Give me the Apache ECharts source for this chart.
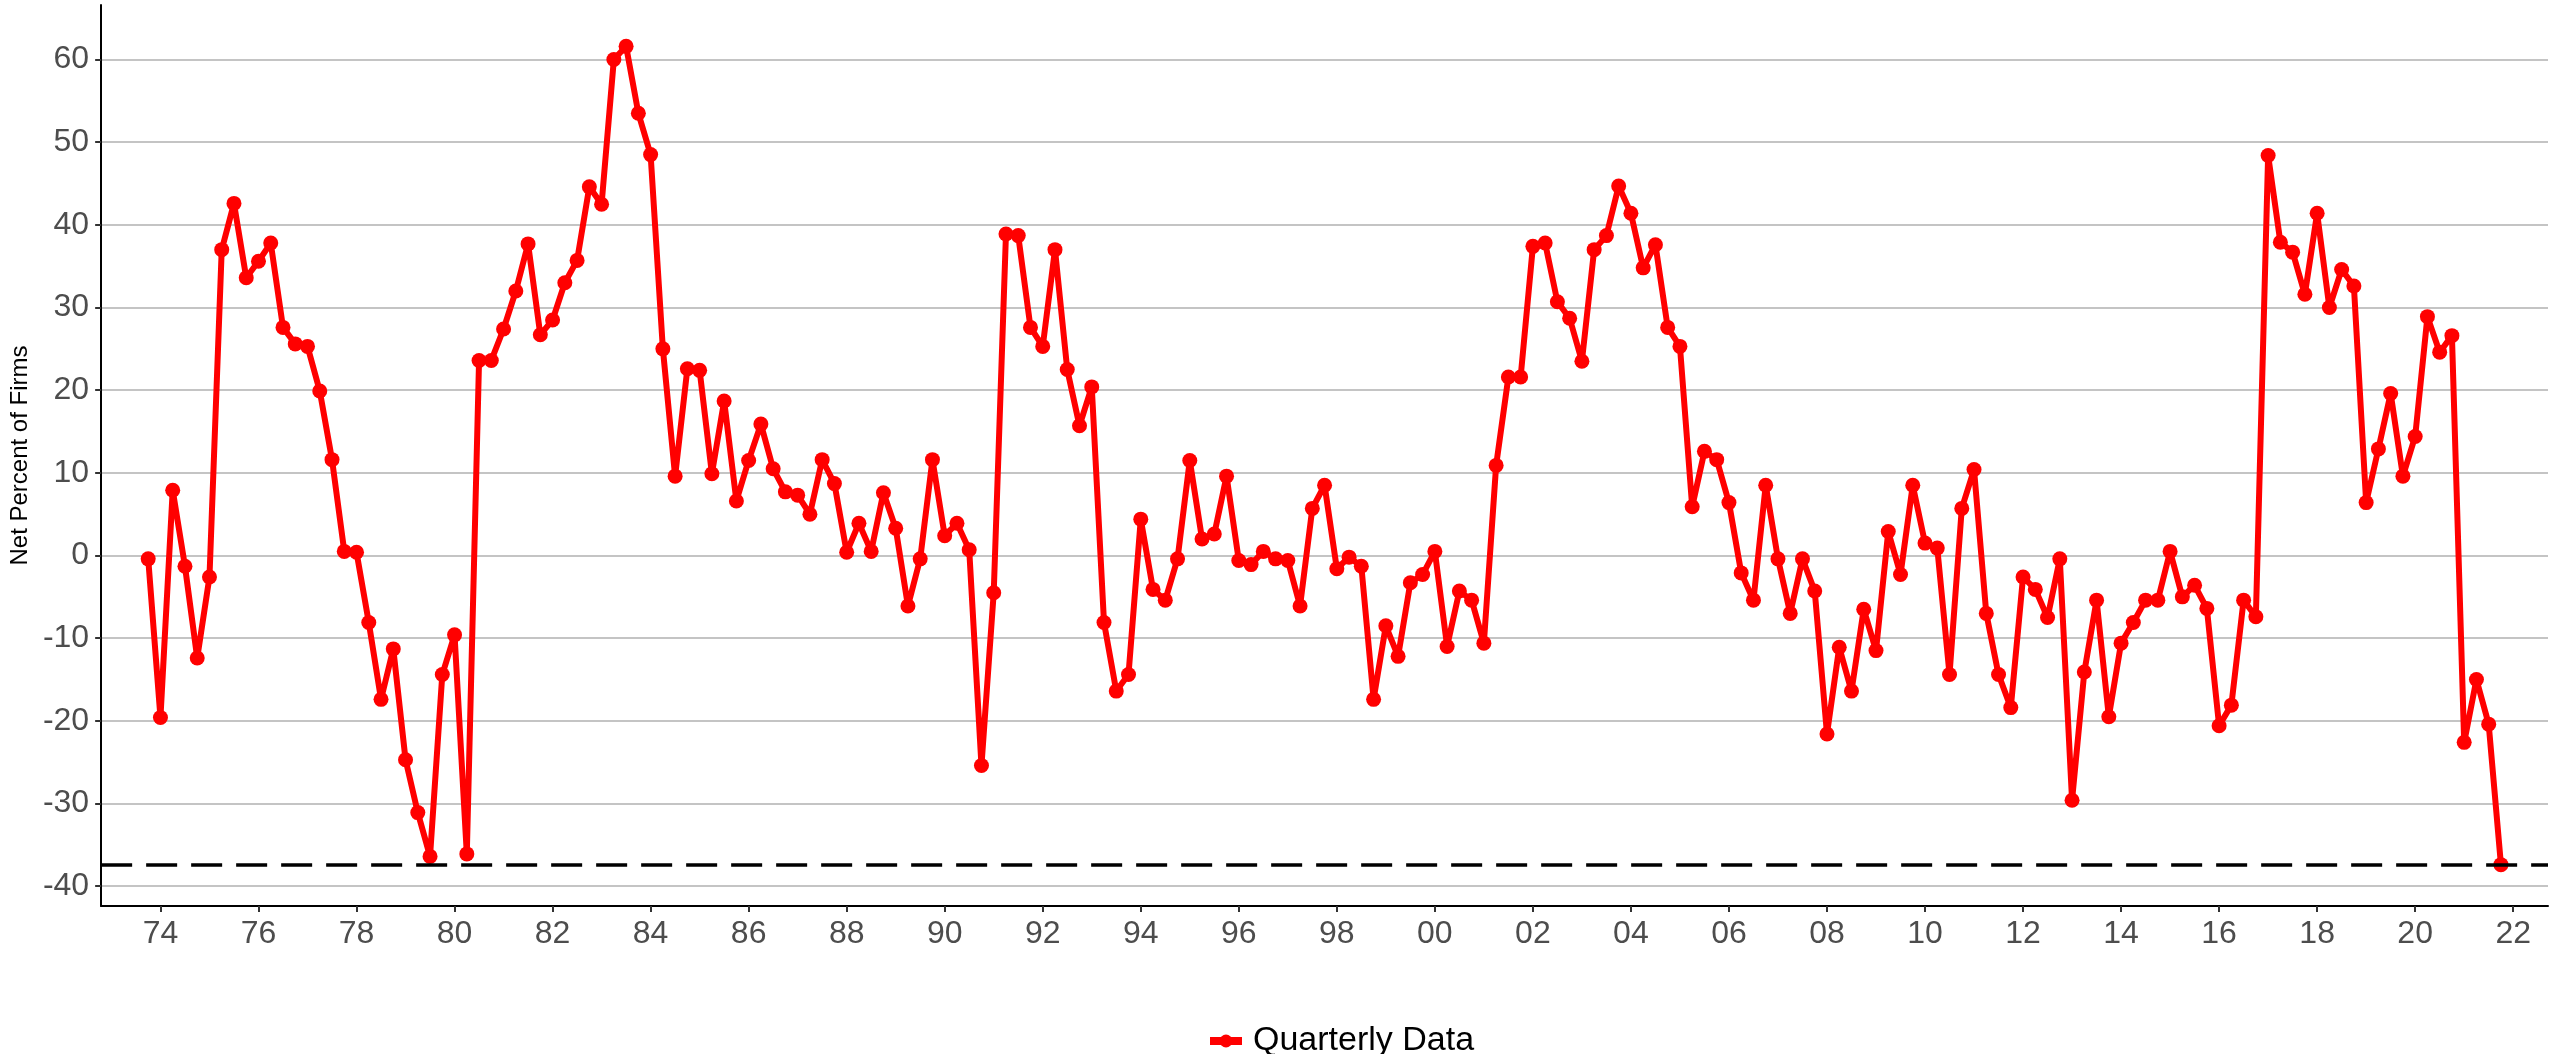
<!DOCTYPE html>
<html>
<head>
<meta charset="utf-8">
<title>Net Percent of Firms</title>
<script src="https://cdn.jsdelivr.net/npm/echarts@6/dist/echarts.min.js"></script>
<style>
  html, body { margin: 0; padding: 0; background: #fff; }
  #main { width: 2552px; height: 1054px; }
</style>
</head>
<body>
<div id="main"></div>
<script>
// first observation is 1973 Q4, one value per quarter
const startYear = 1973
const startQuarter = 4
const netPercent = [
  -0.4,
  -19.6, 7.9, -1.3, -12.4,    // 74
  -2.6, 37.0, 42.6, 33.6,     // 75
  35.6, 37.8, 27.6, 25.6,     // 76
  25.3, 19.9, 11.6, 0.5,      // 77
  0.4, -8.1, -17.4, -11.3,    // 78
  -24.7, -31.1, -36.4, -14.4, // 79
  -9.6, -36.1, 23.6, 23.6,    // 80
  27.4, 32.0, 37.7, 26.7,     // 81
  28.5, 33.0, 35.7, 44.6,     // 82
  42.5, 60.0, 61.6, 53.5,     // 83
  48.5, 25.0, 9.6, 22.6,      // 84
  22.4, 9.9, 18.7, 6.6,       // 85
  11.5, 15.9, 10.5, 7.7,      // 86
  7.3, 5.0, 11.6, 8.7,        // 87
  0.4, 3.9, 0.5, 7.6,         // 88
  3.3, -6.1, -0.4, 11.6,      // 89
  2.4, 3.9, 0.7, -25.4,       // 90
  -4.5, 38.9, 38.7, 27.6,     // 91
  25.3, 37.0, 22.5, 15.7,     // 92
  20.4, -8.1, -16.4, -14.4,   // 93
  4.4, -4.1, -5.4, -0.4,      // 94
  11.5, 2.0, 2.6, 9.6,        // 95
  -0.6, -1.1, 0.5, -0.4,      // 96
  -0.6, -6.1, 5.7, 8.5,       // 97
  -1.6, -0.2, -1.3, -17.4,    // 98
  -8.5, -12.2, -3.3, -2.3,    // 99
  0.5, -11.0, -4.3, -5.4,     // 00
  -10.6, 10.9, 21.6, 21.6,    // 01
  37.4, 37.8, 30.7, 28.7,     // 02
  23.5, 37.0, 38.7, 44.7,     // 03
  41.4, 34.8, 37.6, 27.6,     // 04
  25.3, 5.9, 12.6, 11.6,      // 05
  6.4, -2.1, -5.4, 8.5,       // 06
  -0.4, -7.0, -0.4, -4.3,     // 07
  -21.6, -11.1, -16.4, -6.5,  // 08
  -11.5, 2.9, -2.3, 8.5,      // 09
  1.5, 0.9, -14.4, 5.7,       // 10
  10.4, -7.0, -14.4, -18.4,   // 11
  -2.6, -4.1, -7.5, -0.4,     // 12
  -29.6, -14.1, -5.4, -19.5,  // 13
  -10.6, -8.1, -5.4, -5.4,    // 14
  0.5, -5.0, -3.6, -6.4,      // 15
  -20.6, -18.1, -5.4, -7.4,   // 16
  48.4, 37.9, 36.7, 31.6,     // 17
  41.4, 30.0, 34.6, 32.6,     // 18
  6.4, 12.9, 19.6, 9.6,       // 19
  14.4, 28.9, 24.6, 26.6,     // 20
  -22.6, -15.0, -20.4, -37.4  // 21
]
const xTickYears = [1974, 1976, 1978, 1980, 1982, 1984, 1986, 1988, 1990, 1992, 1994, 1996,
  1998, 2000, 2002, 2004, 2006, 2008, 2010, 2012, 2014, 2016, 2018, 2020, 2022]
const yTicks = [-40, -30, -20, -10, 0, 10, 20, 30, 40, 50, 60]
const seriesName = 'Quarterly Data'

// quarter -> decimal year (Q1 sits on the year tick)
const points = netPercent.map((v, i) => {
  const q = startQuarter - 1 + i
  return [startYear + Math.floor(q / 4) + (q % 4) / 4, v]
})
// dashed reference line at the latest reading
const latest = netPercent[netPercent.length - 1]

const font = "'Liberation Sans', Arial, sans-serif"

const chart = echarts.init(document.getElementById('main'))
chart.setOption({
  animation: false,
  grid: {
    left: 100,
    right: 4,
    top: 5,
    bottom: 148,
    containLabel: false
  },
  legend: {
    data: [seriesName],
    left: 1201,
    top: 1019,
    itemWidth: 32,
    itemHeight: 16,
    lineStyle: { width: 8 },
    textStyle: {
      color: '#000',
      fontSize: 34,
      fontFamily: font,
      padding: [0, 0, 0, 6]
    }
  },
  xAxis: {
    type: 'value',
    min: 1972.79,
    max: 2022.71,
    axisLine: { onZero: false, lineStyle: { color: '#000', width: 2 } },
    axisTick: { customValues: xTickYears, length: 6, lineStyle: { color: '#333', width: 2 } },
    axisLabel: {
      customValues: xTickYears,
      margin: 12,
      color: '#4d4d4d',
      fontSize: 32,
      fontFamily: font,
      formatter: v => String(v % 100).padStart(2, '0')
    },
    splitLine: { show: false }
  },
  yAxis: {
    type: 'value',
    min: -42.4,
    max: 66.6,
    name: 'Net Percent of Firms',
    nameLocation: 'middle',
    nameGap: 66,
    nameTextStyle: { color: '#000', fontSize: 24, fontFamily: font },
    axisLine: { show: true, lineStyle: { color: '#000', width: 2 } },
    axisTick: { show: true, customValues: yTicks, length: 6, lineStyle: { color: '#333', width: 2 } },
    axisLabel: {
      customValues: yTicks,
      margin: 12,
      color: '#4d4d4d',
      fontSize: 32,
      fontFamily: font
    },
    splitLine: { show: true, lineStyle: { color: '#c4c4c4', width: 2 } }
  },
  series: [{
    name: seriesName,
    type: 'line',
    data: points,
    symbol: 'circle',
    symbolSize: 15,
    itemStyle: { color: '#ff0000' },
    lineStyle: { color: '#ff0000', width: 6 },
    markLine: {
      silent: true,
      symbol: 'none',
      label: { show: false },
      lineStyle: { color: '#000', width: 3.5, type: [31, 14] },
      data: [{ yAxis: latest }]
    }
  }]
})
</script>
</body>
</html>
